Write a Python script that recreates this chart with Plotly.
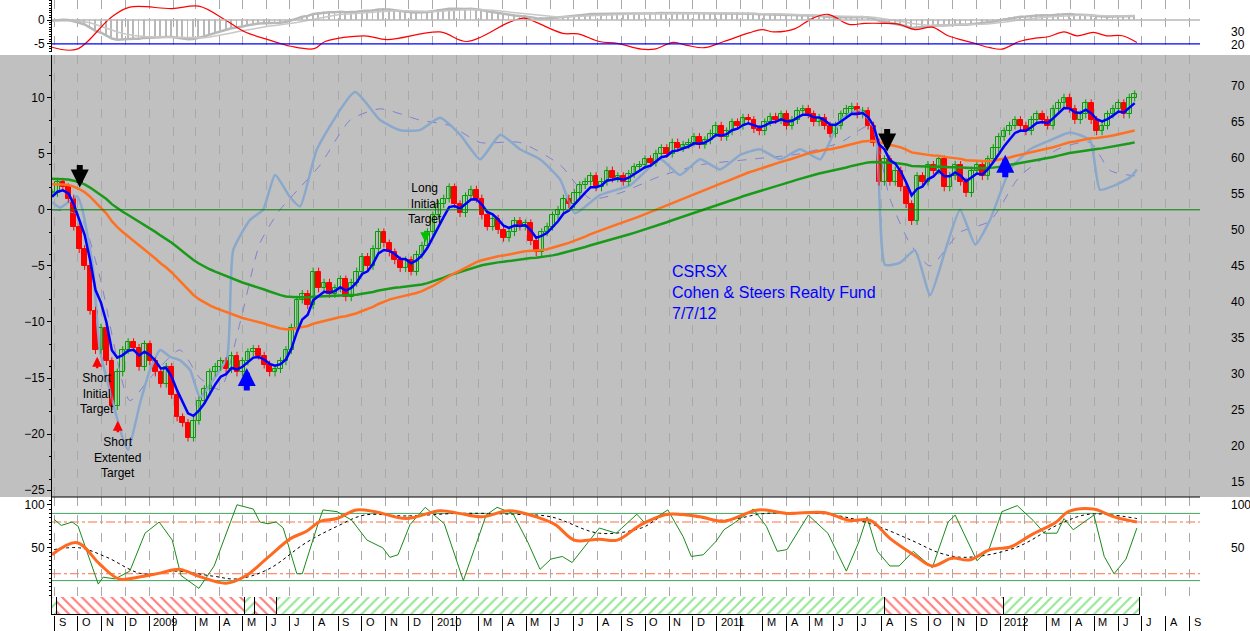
import pandas as pd
import numpy as np
import plotly.graph_objects as go
from plotly.subplots import make_subplots

# weekly closes (left scale), first week = 2008-08-29
start = pd.Timestamp("2008-08-29")
close = [
    1.5, 2.5, 2.0, 1.0,
    -1.5, -3.5, -5.0, -9.0, -12.5,
    -10.5, -13.5, -17.5, -14.5,
    -12.5, -11.8, -12.3, -14.0,
    -12.0, -13.5, -14.5, -15.5, -14.0,
    -16.5, -18.5, -19.0, -20.3,
    -18.8, -17.0, -16.0, -14.5,
    -14.0, -13.5, -14.2, -13.0, -14.5,
    -13.5, -12.7, -12.4, -13.0,
    -13.8, -14.5, -14.2, -13.5,
    -12.5, -10.5, -8.0, -7.5, -8.5,
    -5.5, -7.0, -6.5, -7.5,
    -7.0, -6.2, -7.8, -6.5,
    -5.5, -4.2, -5.0, -3.5, -2.0,
    -3.0, -3.8, -4.5, -5.2,
    -4.5, -5.5, -4.0, -3.2,
    -2.0, -0.5, 0.5, 1.0, 2.0,
    0.5, -0.3, 1.2, 1.8,
    1.0, -0.5, -1.5, -0.8,
    -1.8, -2.5, -2.0, -1.0, -1.5,
    -1.2, -2.8, -3.8, -2.0,
    -1.5, -0.5, 0.0, 1.0,
    0.5, 1.5, 2.2, 2.5, 3.0,
    2.0, 2.5, 3.5, 2.8,
    3.0, 2.5, 3.2, 3.8,
    4.0, 4.5, 4.2, 5.0, 5.5,
    5.0, 6.0, 5.5, 5.8,
    6.0, 6.5, 5.8, 6.2,
    6.8, 7.5, 6.5, 7.0, 7.8,
    7.5, 8.2, 8.0, 7.2,
    7.0, 7.8, 8.3, 8.0,
    8.5, 7.5, 8.0, 8.8, 9.0,
    8.5, 7.8, 8.2, 7.5,
    6.8, 7.5, 8.5, 9.0,
    9.2, 8.5, 8.8, 7.5, 6.0,
    2.5, 4.5, 2.5, 3.5,
    2.0, 0.5, -1.0, 3.0,
    2.5, 4.0, 3.5, 4.5, 2.0,
    3.0, 4.0, 2.5, 1.5,
    3.5, 4.0, 3.0, 4.5,
    5.5, 6.5, 7.0, 7.5, 8.0,
    7.5, 7.0, 8.0, 8.5,
    8.0, 7.5, 9.0, 9.5,
    10.0, 9.0, 8.0, 8.5, 9.5,
    8.0, 7.0, 7.5, 8.5,
    9.0, 9.5, 8.5, 10.0,
    10.3,
]

# overlay oscillator (light blue) and its dashed average: (week, value)
osc_wk = [0, 1.5, 4.6, 5.5, 7.5, 8.8, 11.2, 13.1, 14.0, 16.2, 18.0, 19.9, 21.7, 23.5, 25.4, 27.2, 29.6, 32.2,
          33.3, 36.4, 38.8, 41.0, 43.8, 45.6, 48.7, 55.7, 60.3, 64.0, 67.6, 71.3, 75.0, 78.7, 82.4, 86.0, 89.7,
          93.4, 96.1, 100.7, 106.3, 111.8, 115.4, 119.1, 122.8, 126.5, 130.1, 133.8, 137.5, 141.2, 144.9, 148.5,
          151.3, 153.1, 155.9, 158.6, 161.4, 164.2, 166.9, 169.7, 172.4, 176.1, 179.8, 183.5, 187.1, 190.8, 192.6,
          195.4, 198.2, 199.4]
osc_val = [0.7, 0.2, 1.2, 0.2, -5.1, -12.5, -17.2, -20.5, -21.4, -17.2, -14.3, -12.5, -13.1, -13.4, -14.3, -16.7,
           -15.2, -13.1, -3.6, -0.9, 0.0, 3.1, 1.1, 0.3, 5.4, 10.5, 8.0, 7.1, 7.1, 8.2, 6.7, 4.5, 6.7, 5.4, 4.5, 2.7,
           -0.3, 1.3, 2.2, 4.5, 3.1, 4.5, 3.6, 4.9, 5.4, 4.5, 5.4, 4.5, 8.0, 8.9, 7.1, -4.9, -4.7, -3.6, -7.6, -3.6,
           0.0, -3.1, -0.9, 3.6, 5.4, 6.2, 6.9, 6.2, 1.8, 2.2, 2.9, 3.6]
osc_avg_wk = [0, 5.1, 8.8, 14.3, 18.0, 23.5, 27.2, 30.9, 34.6, 38.2, 41.9, 45.6, 49.3, 54.8, 60.3, 67.6, 73.2, 78.7,
              86.0, 93.4, 98.9, 104.4, 111.8, 119.1, 128.3, 137.5, 144.9, 150.4, 154.0, 157.7, 161.4, 166.9, 172.4,
              177.9, 185.3, 190.8, 194.5, 199.4]
osc_avg_val = [0, -0.5, -6, -17, -15, -12.5, -15, -16, -10, -3, 0, 2, 4, 8, 9, 8, 7.5, 6, 6, 4, 1, 1.5, 3, 4, 4.5,
               5, 6, 7.5, 1, -3, -5, -2, -1, 3, 5.5, 6, 3.5, 3]

# top panel momentum (red)
mom_wk = [0, 4.6, 10.8, 14.3, 22.1, 27.0, 32.0, 35.5, 39.7, 43.9, 48.2, 50.2, 57.4, 61.6, 71.3, 76.3, 84.0, 86.8,
          89.0, 93.9, 96.7, 100.6, 103.9, 108.3, 110.7, 114.2, 116.7, 119.9, 123.5, 128.1, 130.5, 132.7, 136.6,
          139.5, 142.6, 146.5, 149.4, 152.6, 155.7, 158.6, 161.8, 164.7, 169.3, 172.4, 174.6, 177.8, 180.7, 183.1,
          186.0, 188.4, 191.4, 193.8, 196.7, 199.4]
mom_val = [-5.7, -6.1, 0.5, 2.7, 2.4, 2.9, -0.1, -2.5, -4.1, -5.5, -6.0, -4.5, -3.3, -4.1, -2.5, -4.5, -0.5, 0.4,
           -0.5, -2.8, -2.9, -4.5, -4.9, -6.1, -6.1, -4.7, -5.3, -5.8, -4.5, -2.7, -2.0, -2.5, -1.8, 0.2, 1.2, -0.9,
           -0.7, -0.7, -0.9, -2.0, -1.5, -3.3, -4.8, -5.8, -6.1, -4.5, -3.8, -3.5, -2.5, -3.3, -2.6, -3.3, -3.3, -4.7]

# stochastic panel
fast_wk = [0.4, 1.7, 3.7, 4.8, 8.5, 9.4, 11.6, 14.3, 17.1, 19.7, 22.1, 23.7, 27.0, 29.8, 34.0, 37.0, 38.2, 39.7,
           41.2, 42.5, 45.0, 46.0, 48.9, 49.8, 52.4, 55.1, 57.9, 60.8, 62.1, 63.6, 65.8, 68.6, 72.1, 75.6, 77.6,
           79.8, 81.8, 84.7, 87.5, 89.7, 91.7, 93.8, 95.6, 100.6, 103.7, 107.5, 108.8, 110.7, 113.2, 116.0, 117.5,
           119.7, 122.1, 123.5, 125.2, 128.9, 131.3, 133.3, 135.1, 137.3, 139.0, 142.6, 146.0, 148.3, 149.8, 151.7,
           154.0, 155.7, 158.3, 161.8, 164.7, 166.0, 167.8, 170.0, 172.2, 174.6, 177.4, 180.3, 182.4, 184.7, 186.0,
           187.7, 191.5, 193.4, 195.2, 197.4, 199.4]
fast_val = [83, 76, 80, 75, 8, 16, 14, 23, 67, 80, 59, 18, 3, 29, 100, 95, 80, 78, 80, 73, 20, 20, 78, 94, 92, 82,
            59, 50, 39, 42, 77, 97, 78, 12, 48, 88, 97, 90, 56, 25, 37, 40, 33, 73, 67, 89, 80, 84, 94, 63, 40, 42,
            58, 71, 78, 95, 75, 46, 48, 71, 88, 67, 23, 57, 86, 46, 29, 29, 46, 27, 80, 88, 65, 35, 48, 92, 99, 82,
            67, 67, 84, 71, 88, 40, 20, 37, 73]
slow_wk = [0, 4.6, 8.8, 12.3, 15.8, 20.0, 23.5, 27.0, 32.0, 35.5, 39.7, 43.9, 46.7, 49.4, 52.4, 55.9, 59.4, 65.1,
           71.3, 74.8, 79.0, 84.0, 89.0, 92.5, 96.0, 100.6, 103.9, 108.3, 113.2, 119.1, 123.5, 129.8, 135.1, 141.9,
           146.5, 150.4, 154.0, 158.6, 161.8, 165.4, 168.6, 172.4, 176.1, 180.0, 184.6, 186.8, 191.4, 195.2, 199.4]
slow_val = [42, 56, 31, 14, 16, 21, 25, 17, 9, 17, 39, 61, 69, 81, 84, 94, 92, 84, 93, 90, 86, 93, 86, 77, 59, 60,
            59, 77, 89, 86, 81, 94, 90, 91, 82, 82, 61, 41, 29, 38, 36, 48, 51, 65, 80, 92, 95, 86, 80]
sig_wk = [0.4, 5.1, 10.1, 16.5, 22.8, 29.8, 34.0, 39.7, 46.7, 52.4, 57.4, 65.1, 74.8, 84.7, 91.7, 100.6, 108.3,
          112.9, 123.5, 131.3, 142.6, 150.4, 157.9, 163.2, 167.8, 177.0, 185.3, 190.6, 199.4]
sig_val = [48, 50, 39, 20, 23, 17, 14, 25, 56, 75, 88, 87, 90, 89, 86, 67, 73, 88, 82, 90, 89, 78, 59, 44, 39, 50,
           78, 89, 84]

# trend regimes for the bottom strip: (start week, end week, colour)
regimes = [(0, 0.9, "green"), (0.9, 35.5, "red"), (35.5, 37.3, "green"), (37.3, 41.4, "red"),
           (41.4, 153.1, "green"), (153.1, 175.0, "red"), (175.0, 200.0, "green")]

RED = "#ff0000"
wk = np.arange(len(close))
opn = [close[0]] + close[:-1]
hi = [max(o, c) + 0.35 for o, c in zip(opn, close)]
lo = [min(o, c) - 0.35 for o, c in zip(opn, close)]


def ema(vals, span, seed=None):
    a = 2 / (span + 1)
    out = []
    prev = vals[0] if seed is None else seed
    for v in vals:
        prev = prev + a * (v - prev)
        out.append(prev)
    return np.array(out)


ma_fast = ema(close, 5, 1.0)
ma_mid = ema(close, 50, 2.3)
ma_slow = ema(close, 80, 2.8)
macd = ema(close, 12, 1.0) - ema(close, 26, 1.2)
macd_sig = ema(list(macd), 9)

fig = make_subplots(rows=4, cols=1, shared_xaxes=True, vertical_spacing=0)
H = 615.0
doms = [(1 - 52 / H, 1), (118 / H, 1 - 55 / H), (18 / H, 118 / H), (0, 18 / H)]

# top panel
fig.add_trace(go.Bar(x=wk, y=macd, marker_color="rgba(0,0,0,0)", marker_line_color="#b8b8b8",
                     marker_line_width=1, width=0.15), 1, 1)
fig.add_trace(go.Scatter(x=wk, y=macd, mode="lines", line=dict(color="#b8b8b8", width=2.5)), 1, 1)
fig.add_trace(go.Scatter(x=wk, y=macd_sig, mode="lines", line=dict(color="#c8c8c8", width=1.5)), 1, 1)
fig.add_trace(go.Scatter(x=mom_wk, y=mom_val, mode="lines", line=dict(color=RED, width=1.2, shape="spline")), 1, 1)

# main panel
fig.add_trace(go.Scatter(x=osc_avg_wk, y=osc_avg_val, mode="lines",
                         line=dict(color="#8080d0", width=1, dash="dash", shape="spline", smoothing=0.6)), 2, 1)
fig.add_trace(go.Scatter(x=osc_wk, y=osc_val, mode="lines",
                         line=dict(color="#8aa8cc", width=2.5, shape="spline", smoothing=0.5)), 2, 1)

# candles: wicks + bodies
up = [c >= o for o, c in zip(opn, close)]
for is_up, col in [(True, "#00a000"), (False, RED)]:
    wx, wy = [], []
    for i in range(len(close)):
        if up[i] == is_up:
            wx += [i, i, None]
            wy += [lo[i], hi[i], None]
    fig.add_trace(go.Scatter(x=wx, y=wy, mode="lines", line=dict(color=col, width=1)), 2, 1)
    idx = [i for i in range(len(close)) if up[i] == is_up]
    fig.add_trace(go.Bar(x=idx, base=[min(opn[i], close[i]) for i in idx],
                         y=[max(abs(close[i] - opn[i]), 0.12) for i in idx], width=0.85,
                         marker=dict(color="#c0c0c0" if is_up else RED, line=dict(color=col, width=1))), 2, 1)

fig.add_trace(go.Scatter(x=wk, y=ma_slow, mode="lines", line=dict(color="#1a9a1a", width=2.5)), 2, 1)
fig.add_trace(go.Scatter(x=wk, y=ma_mid, mode="lines", line=dict(color="#ff7020", width=2.5)), 2, 1)
fig.add_trace(go.Scatter(x=wk, y=ma_fast, mode="lines", line=dict(color="#0000ff", width=2.5)), 2, 1)

# stochastic panel
fig.add_trace(go.Scatter(x=sig_wk, y=sig_val, mode="lines",
                         line=dict(color="black", width=1, dash="dot", shape="spline")), 3, 1)
fig.add_trace(go.Scatter(x=fast_wk, y=fast_val, mode="lines", line=dict(color="#1a8a1a", width=1)), 3, 1)
fig.add_trace(go.Scatter(x=slow_wk, y=slow_val, mode="lines",
                         line=dict(color="#ff6a20", width=3, shape="spline")), 3, 1)

# regime strip
for s, e, c in regimes:
    fig.add_trace(go.Bar(x=[(s + e) / 2], y=[1], width=[e - s], marker=dict(
        color="white", line=dict(color="black", width=1),
        pattern=dict(shape="\\" if c == "red" else "/", fgcolor=RED if c == "red" else "#30d030",
                     size=7, solidity=0.3))), 4, 1)

# month grid
months = pd.date_range("2008-09-01", "2012-09-01", freq="MS")
mwk = [(m - start).days / 7 for m in months]
labels = []
for m in months:
    if m.month == 1:
        labels.append(str(m.year))
    elif m.month == 2:
        labels.append("")
    else:
        labels.append("JFMAMJJASOND"[m.month - 1])

xr = [0, 211]
for i in range(1, 5):
    fig.update_xaxes(row=i, col=1, range=xr, tickvals=mwk, showticklabels=False, showgrid=(i < 4),
                     gridcolor="#a8a8a8", griddash="dash", gridwidth=1, zeroline=False,
                     ticks="", showline=False, automargin=False)
fig.update_xaxes(row=4, col=1, ticks="outside", ticklen=16, tickcolor="black", showgrid=False)

ax = dict(showgrid=False, zeroline=False, ticks="outside", ticklen=4, tickcolor="black", showline=True,
          linecolor="black", tickfont=dict(family="Arial", size=12, color="black"), automargin=False,
          minor=dict(ticks="outside", ticklen=2))
fig.update_yaxes(row=1, col=1, range=[-6.7, 4.2], tickvals=[-5, 0], ticktext=["-5", "0"], **ax)
fig.update_yaxes(row=2, col=1, range=[-25.6, 13.8], tickvals=list(range(-25, 11, 5)), **ax)
fig.update_yaxes(row=3, col=1, range=[-7, 109], tickvals=[50, 100], **ax)
fig.update_yaxes(row=4, col=1, range=[0, 1], showticklabels=False, showgrid=False, zeroline=False,
                 showline=True, linecolor="black", automargin=False)

for i, d in enumerate(doms):
    fig.layout["yaxis" + ("" if i == 0 else str(i + 1))].domain = d

shapes = [
    dict(type="rect", xref="paper", yref="y2 domain", x0=-0.05, x1=1.05, y0=0, y1=1,
         fillcolor="#c0c0c0", line_width=0, layer="below"),
    dict(type="line", xref="x2 domain", yref="y2", x0=0, x1=1, y0=0, y1=0, line=dict(color="#008000", width=1)),
    dict(type="line", xref="x domain", yref="y", x0=0, x1=1, y0=-5, y1=-5, line=dict(color="#0000ff", width=1.2)),
    dict(type="line", xref="x domain", yref="y", x0=0, x1=1, y0=0, y1=0, line=dict(color="#b8b8b8", width=1.5)),
    dict(type="line", xref="x2 domain", yref="y2 domain", x0=0, x1=1, y0=0, y1=0, line=dict(color="black", width=1)),
]
for lvl, col, dsh in [(90, "#40a060", "solid"), (12, "#40a060", "solid"), (80, "#ff7040", "dashdot"), (20, "#ff7040", "dashdot")]:
    shapes.append(dict(type="line", xref="x3 domain", yref="y3", x0=0, x1=1, y0=lvl, y1=lvl,
                       line=dict(color=col, width=1, dash=dsh), layer="below"))

ann = []
rfont = dict(family="Arial", size=12, color="black")
for r in range(15, 71, 5):
    ann.append(dict(xref="paper", yref="y2", x=1.025, y=(r - 52.8) / 1.556, text=str(r), showarrow=False,
                    xanchor="left", font=rfont))
for r, v in [(100, 100), (50, 50)]:
    ann.append(dict(xref="paper", yref="y3", x=1.025, y=v, text=str(r), showarrow=False, xanchor="left", font=rfont))
for r, v in [(30, -2.5), (20, -5.2)]:
    ann.append(dict(xref="paper", yref="y", x=1.025, y=v, text=str(r), showarrow=False, xanchor="left", font=rfont))
for m, t in zip(mwk, labels):
    if m < 211 and t:
        ann.append(dict(xref="x4", yref="paper", x=m + 0.4, y=0, text=t, showarrow=False, xanchor="left",
                        yanchor="top", yshift=1, font=dict(family="Arial", size=11, color="black")))

tfont = dict(family="Arial", size=12, color="black")
for x, y, t in [(8.3, -16.4, "Short<br>Initial<br>Target"), (12.1, -22.1, "Short<br>Extented<br>Target"),
                (68.6, 0.6, "Long<br>Initial<br>Target")]:
    ann.append(dict(xref="x2", yref="y2", x=x, y=y, text=t, showarrow=False, font=tfont))
ann.append(dict(xref="x2", yref="y2", x=113.6, y=-4.6, text="CSRSX<br>Cohen &amp; Steers Realty Fund<br>7/7/12",
                showarrow=False, xanchor="left", yanchor="top", align="left",
                font=dict(family="Arial", size=16, color="#0000ff")))
for x, y, col, is_up, big in [(5.1, 2.0, "black", False, True), (153.5, 5.2, "black", False, True),
                              (35.8, -14.1, "#0000ff", True, True), (175.2, 4.9, "#0000ff", True, True),
                              (8.3, -13.1, RED, True, False), (12.1, -18.8, RED, True, False),
                              (68.6, -2.9, "#00c000", False, False)]:
    ann.append(dict(xref="x2", yref="y2", x=x, y=y, ax=0, ay=(24 if is_up else -24) if big else (13 if is_up else -13),
                    showarrow=True, arrowhead=2, arrowsize=0.6 if big else 0.8, arrowwidth=6 if big else 2.5,
                    arrowcolor=col, text=""))

fig.update_layout(width=1250, height=631, margin=dict(l=52, r=50, t=0, b=16), showlegend=False,
                  paper_bgcolor="white", plot_bgcolor="white", bargap=0, barmode="overlay",
                  shapes=shapes, annotations=ann, font=dict(family="Arial"))
fig.write_html("out.html", config={"displayModeBar": False},
               post_script="document.body.style.margin='0';")
